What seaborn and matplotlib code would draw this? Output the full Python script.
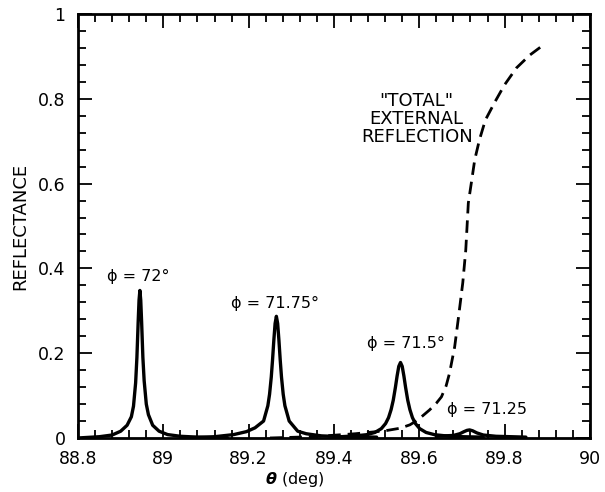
import matplotlib
matplotlib.use("Agg")
import matplotlib.pyplot as plt
import seaborn as sns
import numpy as np
import pandas as pd
from matplotlib.ticker import MultipleLocator, FuncFormatter

# peak curves (theta in deg, reflectance)
x_72 = [88.80, 88.85, 88.88, 88.90, 88.915, 88.925, 88.93, 88.935, 88.938, 88.941, 88.943, 88.945,
        88.947, 88.949, 88.952, 88.955, 88.96, 88.965, 88.975, 88.99, 89.01, 89.04, 89.08, 89.15]
y_72 = [0.0, 0.003, 0.007, 0.016, 0.03, 0.05, 0.075, 0.13, 0.19, 0.275, 0.325, 0.348,
        0.325, 0.275, 0.19, 0.135, 0.08, 0.055, 0.03, 0.016, 0.008, 0.004, 0.002, 0.0]

x_7175 = [89.05, 89.12, 89.165, 89.195, 89.215, 89.235, 89.245, 89.249, 89.253, 89.256, 89.259, 89.262, 89.265,
          89.268, 89.271, 89.274, 89.277, 89.281, 89.285, 89.295, 89.315, 89.335, 89.37, 89.42, 89.5]
y_7175 = [0.0, 0.003, 0.008, 0.015, 0.024, 0.04, 0.076, 0.103, 0.1435, 0.184, 0.23, 0.27, 0.287,
          0.27, 0.23, 0.184, 0.1435, 0.103, 0.076, 0.04, 0.016, 0.01, 0.005, 0.003, 0.002]

x_715 = [89.40, 89.45, 89.476, 89.496, 89.511, 89.521, 89.528, 89.534, 89.539, 89.544, 89.548, 89.552, 89.556,
         89.560, 89.564, 89.568, 89.573, 89.578, 89.584, 89.591, 89.601, 89.616, 89.636, 89.676, 89.75]
y_715 = [0.002, 0.005, 0.0077, 0.013, 0.022, 0.034, 0.048, 0.067, 0.089, 0.119, 0.146, 0.169, 0.178,
         0.169, 0.146, 0.119, 0.089, 0.067, 0.048, 0.034, 0.022, 0.013, 0.0077, 0.0035, 0.002]

x_7125 = [89.64, 89.68, 89.695, 89.705, 89.712, 89.718, 89.725, 89.735, 89.75, 89.78, 89.85]
y_7125 = [0.004, 0.006, 0.01, 0.015, 0.018, 0.019, 0.017, 0.012, 0.007, 0.004, 0.002]

# "total" external reflection (dashed)
x_total = [89.25, 89.35, 89.45, 89.52, 89.555, 89.578, 89.596, 89.624, 89.640, 89.652, 89.663, 89.671,
           89.683, 89.692, 89.702, 89.709, 89.712, 89.715, 89.723, 89.730, 89.741, 89.755, 89.777, 89.800,
           89.828, 89.859, 89.891]
y_total = [0.0, 0.003, 0.01, 0.017, 0.023, 0.031, 0.042, 0.066, 0.082, 0.097, 0.123, 0.153,
           0.215, 0.285, 0.366, 0.443, 0.498, 0.554, 0.608, 0.656, 0.703, 0.750, 0.792, 0.833,
           0.873, 0.903, 0.927]

peak_labels = ["\u03d5 = 72\u00b0", "\u03d5 = 71.75\u00b0", "\u03d5 = 71.5\u00b0", "\u03d5 = 71.25"]
label_pos = [(88.94, 0.38), (89.261, 0.318), (89.568, 0.224), (89.759, 0.066)]

sns.set_theme(style="ticks")
plt.rcParams['font.family'] = ['DejaVu Sans']

fig = plt.figure(figsize=(6.05, 4.92), dpi=100)
ax = fig.add_axes([0.129, 0.1098, 0.846, 0.8617])

for xs, ys in [(x_72, y_72), (x_7175, y_7175), (x_715, y_715), (x_7125, y_7125)]:
    sns.lineplot(x=xs, y=ys, ax=ax, color='black', lw=2.4, estimator=None, sort=False)

sns.lineplot(x=x_total, y=y_total, ax=ax, color='black', lw=2.0, estimator=None, sort=False,
             linestyle=(0, (4.5, 2.5)))

for txt, (px, py) in zip(peak_labels, label_pos):
    ax.text(px, py, txt, ha='center', va='center', fontsize=11.5, color='black')

ax.text(89.594, 0.752, '"TOTAL"\nEXTERNAL\nREFLECTION', ha='center', va='center',
        fontsize=13, linespacing=1.0, color='black')

ax.set_xlim(88.8, 90)
ax.set_ylim(0, 1)
ax.xaxis.set_major_locator(MultipleLocator(0.2))
ax.xaxis.set_minor_locator(MultipleLocator(0.04))
ax.yaxis.set_major_locator(MultipleLocator(0.2))
ax.yaxis.set_minor_locator(MultipleLocator(0.04))
ax.xaxis.set_major_formatter(FuncFormatter(lambda v, p: f"{v:.1f}".rstrip('0').rstrip('.')))
ax.yaxis.set_major_formatter(FuncFormatter(lambda v, p: f"{v:.1f}".rstrip('0').rstrip('.')))

ax.tick_params(which='both', direction='in', top=True, right=True, color='black', width=1.3,
               labelsize=12.5, labelcolor='black')
ax.tick_params(which='major', length=10, pad=9)
ax.tick_params(which='minor', length=6)
for s in ax.spines.values():
    s.set_linewidth(2)
    s.set_color('black')

ax.set_xlabel(r'$\boldsymbol{\theta}$ (deg)', fontsize=11.5, va='center')
ax.xaxis.set_label_coords(0.424, -0.098)
ax.set_ylabel('REFLECTANCE', fontsize=13, labelpad=6)
ax.xaxis.label.set_color('black')
ax.yaxis.label.set_color('black')

fig.savefig('out.png', dpi=100)
